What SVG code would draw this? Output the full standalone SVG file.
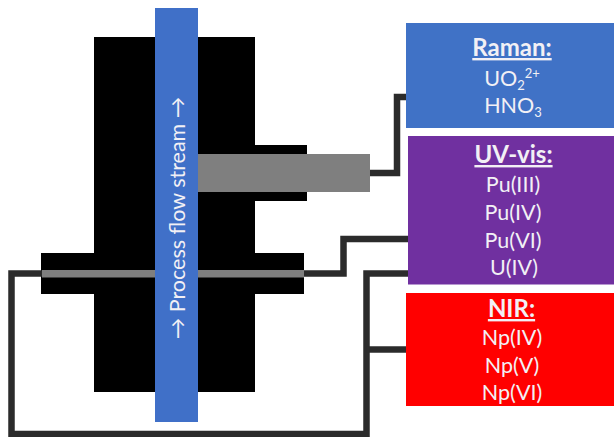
<svg xmlns="http://www.w3.org/2000/svg" width="614" height="437" viewBox="0 0 614 437">
<style>
.k{fill:#000}
.g{fill:#7f7f7f}
.c{fill:none;stroke:#2b2b2b;stroke-width:6.500;stroke-linejoin:miter}
text{font-family:Lato,"Liberation Sans",sans-serif;fill:#f2f0f5;text-anchor:middle;font-size:21.500px}
.h{font-weight:700;font-size:24px;text-decoration:underline}
.s{font-size:13px}
</style>
<rect width="614" height="437" fill="#fff"/>
<g id="cell-body">
<rect class="k" x="94" y="37" width="161" height="355"/>
<rect class="k" x="250" y="145" width="57" height="56"/>
<rect class="k" x="41" y="253" width="263" height="41"/>
<rect class="g" x="42" y="270" width="262" height="7.500"/>
</g>
<g id="connectors">
<path class="c" d="M370 173H397V97H407"/>
<path class="c" d="M304 273.500H343.500V239H411"/>
<path class="c" d="M411 273.500H366.500V434H11.500V273.500H42"/>
<path class="c" d="M366.500 349.500H407"/>
</g>
<g id="probe">
<rect class="g" x="198" y="154" width="172" height="38"/>
</g>
<g id="flow-stream">
<rect x="155" y="8" width="43" height="414" fill="#4070c8"/>
<text transform="translate(185 218) rotate(-90)">→ Process flow stream →</text>
</g>
<g id="raman">
<rect x="406" y="23" width="208" height="105" fill="#4072c6"/>
<text class="h" x="512" y="56">Raman:</text>
<text x="512" y="86">UO<tspan class="s" dy="4">2</tspan><tspan class="s" dy="-12">2+</tspan></text>
<text x="513" y="113">HNO<tspan class="s" dy="4">3</tspan></text>
</g>
<g id="uv-vis">
<rect x="408" y="136" width="206" height="148.500" fill="#7030a0"/>
<text class="h" x="513.500" y="163">UV-vis:</text>
<text x="513" y="192">Pu(III)</text>
<text x="513" y="220">Pu(IV)</text>
<text x="513" y="248">Pu(VI)</text>
<text x="514" y="275">U(IV)</text>
</g>
<g id="nir">
<rect x="406" y="293" width="208" height="113" fill="#ff0000"/>
<text class="h" x="511.500" y="317">NIR:</text>
<text x="512" y="345">Np(IV)</text>
<text x="512" y="373">Np(V)</text>
<text x="512" y="400">Np(VI)</text>
</g>
</svg>
